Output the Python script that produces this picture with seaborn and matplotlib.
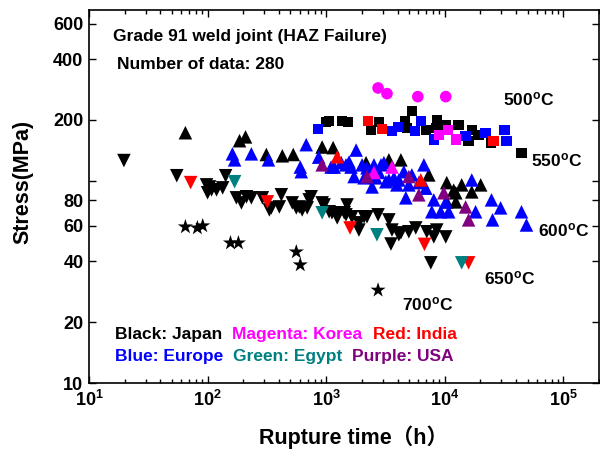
import pandas as pd
import seaborn as sns
import matplotlib.pyplot as plt
from matplotlib.ticker import LogLocator, NullFormatter, FixedLocator, NullLocator

# Creep rupture data of Grade 91 weld joints
# Japan (black)
jp_sq_h = [1000, 1060, 1360, 1530, 2390, 2790, 4610, 4800, 5280, 6920, 8400, 8570,
           10200, 13100, 15900, 16900, 19300, 24400, 44400]
jp_sq_s = [196, 198, 198, 196, 179, 196, 198, 183, 222, 179, 183, 200,
           189, 189, 158, 179, 169, 154, 137]
jp_up_h = [65, 186, 209, 313, 427, 528, 925, 1145, 2170, 3380, 4270, 7340,
           10400, 13900, 20100, 12400, 16900, 10400, 12400, 11900]
jp_up_s = [173, 158, 165, 135, 133, 135, 147, 146, 123, 127, 127, 107,
           98, 95.5, 95.5, 87.3, 88.2, 78.7, 78.7, 90]
jp_dn_h = [19.7, 55, 98, 104, 108, 100, 119, 134, 142, 175, 193, 213, 234, 290,
           332, 345, 403, 419, 518, 560, 593, 628, 692, 719, 748, 925, 961, 1060,
           1120, 1210, 1240, 1420, 1470, 1500, 1650, 1890, 1890, 2090, 2210, 2740,
           3380, 3590, 3520, 4100, 4270, 4980, 5700, 7060, 7630, 8090, 8570, 10200]
jp_dn_s = [126, 106, 95.5, 93.3, 90.2, 87.3, 90.2, 92.3, 106, 82.4, 77.8, 83.4, 82.4, 82.4,
           71.8, 73.5, 74.3, 85.3, 77.8, 73.5, 74.3, 71.8, 73.5, 80.5, 83.4, 77.8, 76.0, 70.3,
           69.5, 69.5, 65.6, 69.5, 67.9, 76, 66.4, 62.0, 57.1, 66.4, 66.4, 67.9,
           64.1, 57.1, 48.7, 54.1, 55.3, 56.0, 58.5, 56.0, 39.3, 52.8, 57.1, 52.8]
jp_st_h = [65, 82, 91, 156, 182, 560, 605, 2740]
jp_st_s = [59.2, 58.5, 59.9, 49.3, 49.3, 44.5, 38.4, 28.8]

# Europe (blue)
eu_sq_h = [857, 3590, 4030, 5600, 6280, 8090, 15000, 22100, 31900, 33200]
eu_sq_s = [181, 177, 185, 176, 198, 160, 167, 173, 179, 158]
eu_up_h = [162, 169, 234, 326, 679, 605, 617, 865, 1100, 1170, 1340, 1470, 1560,
           1620, 1790, 2010, 2210, 2530, 2900, 3070, 2630, 2440, 2790, 3190, 3380,
           3950, 4100, 4520, 5280, 6670, 6050, 6920, 4700, 8090, 10200, 7780, 9250,
           10800, 16900, 18200, 24800, 25300, 29600, 44400, 48900, 1720, 2090, 3730, 4980]
eu_up_s = [136, 127, 136, 127, 151, 117, 111, 131, 117, 117, 123, 120, 124,
           117, 142, 120, 116, 120, 120, 123, 103.5, 93.3, 110, 99, 101,
           95.5, 101, 111, 107, 120, 98, 92, 82.4, 80.5, 78.7, 70.3, 70.3,
           70.3, 101, 70.3, 80.5, 64.1, 73.5, 70.3, 60.5, 105, 103.5, 103.5, 95.5]

# India (red)
in_sq_h = [2250, 2960, 25800]
in_sq_s = [198, 181, 158]
in_up_h = [1240, 6280]
in_up_s = [131.5, 101]
in_dn_h = [72, 319, 1590, 6750, 15900]
in_dn_s = [98, 78.7, 58.5, 48.5, 39.3]

# Korea (magenta)
kr_ci_h = [2740, 3260, 5930, 10200]
kr_ci_s = [288, 270, 261, 261]
kr_sq_h = [8910, 10600, 12400]
kr_sq_s = [169, 179, 160]
kr_up_h = [3590, 2530]
kr_up_s = [117, 110]

# Egypt (green)
eg_dn_h = [169, 925, 2680, 13900]
eg_dn_s = [99, 69.5, 54.1, 39.3]

# USA (purple)
us_up_h = [925, 2210, 4980, 6050, 9820, 15000, 15900]
us_up_s = [120, 105, 105, 85.3, 87.3, 74.3, 64.1]

series = [
    ("Japan", "sq", jp_sq_h, jp_sq_s), ("Japan", "up", jp_up_h, jp_up_s),
    ("Japan", "dn", jp_dn_h, jp_dn_s), ("Japan", "st", jp_st_h, jp_st_s),
    ("Europe", "sq", eu_sq_h, eu_sq_s), ("Europe", "up", eu_up_h, eu_up_s),
    ("India", "sq", in_sq_h, in_sq_s), ("India", "up", in_up_h, in_up_s),
    ("India", "dn", in_dn_h, in_dn_s),
    ("Korea", "ci", kr_ci_h, kr_ci_s), ("Korea", "sq", kr_sq_h, kr_sq_s),
    ("Korea", "up", kr_up_h, kr_up_s),
    ("Egypt", "dn", eg_dn_h, eg_dn_s),
    ("USA", "up", us_up_h, us_up_s),
]
rows = []
for country, shape, hh, ss in series:
    for h, s in zip(hh, ss):
        rows.append((country, shape, h, s))
df = pd.DataFrame(rows, columns=["country", "shape", "hours", "stress"])

palette = {"Japan": "#000000", "Korea": "#FF00FF", "India": "#FF0000",
           "Europe": "#0000FF", "Egypt": "#008080", "USA": "#800080"}
markers = {"sq": "s", "ci": "o", "up": "^", "dn": "v", "st": "*"}
sizes = {"sq": 55, "ci": 70, "up": 95, "dn": 95, "st": 130}

sns.set_style("ticks")
plt.rcParams["font.family"] = ["Liberation Sans", "Noto Sans CJK JP", "DejaVu Sans"]
plt.rcParams["font.weight"] = "bold"
plt.rcParams["text.color"] = "black"
plt.rcParams["axes.labelcolor"] = "black"
plt.rcParams["xtick.color"] = "black"
plt.rcParams["ytick.color"] = "black"
plt.rcParams["mathtext.fontset"] = "custom"
plt.rcParams["mathtext.rm"] = "Liberation Sans:bold"
plt.rcParams["mathtext.bf"] = "Liberation Sans:bold"
plt.rcParams["mathtext.it"] = "Liberation Sans:bold"

fig = plt.figure(figsize=(6, 4.5), dpi=100)
ax = fig.add_axes([89 / 600, 1 - 383 / 450, 510 / 600, 373 / 450])
ax.set_xscale("log")
ax.set_yscale("log")

sns.scatterplot(data=df, x="hours", y="stress", hue="country", palette=palette,
                style="shape", markers=markers, size="shape", sizes=sizes,
                linewidth=0, legend=False, ax=ax)

ax.set_xlim(10, 2e5)
ax.set_ylim(10, 700)

xt = [1e1, 1e2, 1e3, 1e4, 1e5]
ax.xaxis.set_major_locator(FixedLocator(xt))
ax.set_xticklabels([r"$\mathrm{10^{%d}}$" % e for e in range(1, 6)], fontsize=13)
ax.xaxis.set_minor_locator(LogLocator(base=10, subs=range(2, 10)))
ax.xaxis.set_minor_formatter(NullFormatter())

yt = [10, 20, 40, 60, 80, 100, 200, 400, 600]
ax.yaxis.set_major_locator(FixedLocator(yt))
ax.set_yticklabels(["10", "20", "40", "60", "80", "", "200", "400", "600"],
                   fontsize=13, fontweight="bold")
ax.yaxis.set_minor_locator(NullLocator())

ax.tick_params(which="both", direction="in", top=True, right=True, width=1.0,
               color="black", labelcolor="black")
ax.tick_params(which="major", length=5)
ax.tick_params(which="minor", length=3)
ax.tick_params(axis="x", pad=5)
ax.tick_params(axis="y", pad=4)
for sp in ax.spines.values():
    sp.set_linewidth(1.2)
    sp.set_color("black")

ax.set_xlabel("Rupture time（h）", fontsize=15.5, fontweight="bold", va="center",
              color="black")
ax.xaxis.set_label_coords(0.518, -0.145)
ax.set_ylabel("Stress(MPa)", fontsize=15.5, fontweight="bold", va="center",
              color="black")
ax.yaxis.set_label_coords(-0.129, 0.54)

ax.text(0.047, 0.93, "Grade 91 weld joint (HAZ Failure)", transform=ax.transAxes,
        fontsize=12.5, fontweight="bold", va="center", color="black")
ax.text(0.055, 0.853, "Number of data: 280", transform=ax.transAxes,
        fontsize=12.5, fontweight="bold", va="center", color="black")

temps = [("500", 31300, 252), ("550", 53800, 126), ("600", 61700, 57.1),
         ("650", 21300, 33.1), ("700", 4360, 24.6)]
for t, x, y in temps:
    ax.text(x, y, t + r"$^{\mathrm{o}}$C", fontsize=12.5, fontweight="bold",
            va="center", color="black")

legend_txt = [("Black: Japan", "#000000", 0.051, 0.129),
              ("Magenta: Korea", "#FF00FF", 0.280, 0.129),
              ("Red: India", "#FF0000", 0.557, 0.129),
              ("Blue: Europe", "#0000FF", 0.051, 0.070),
              ("Green: Egypt", "#008080", 0.282, 0.070),
              ("Purple: USA", "#800080", 0.516, 0.070)]
for txt, c, x, y in legend_txt:
    ax.text(x, y, txt, color=c, transform=ax.transAxes, fontsize=12.5,
            fontweight="bold", va="center")

fig.savefig("out.png", dpi=100)
